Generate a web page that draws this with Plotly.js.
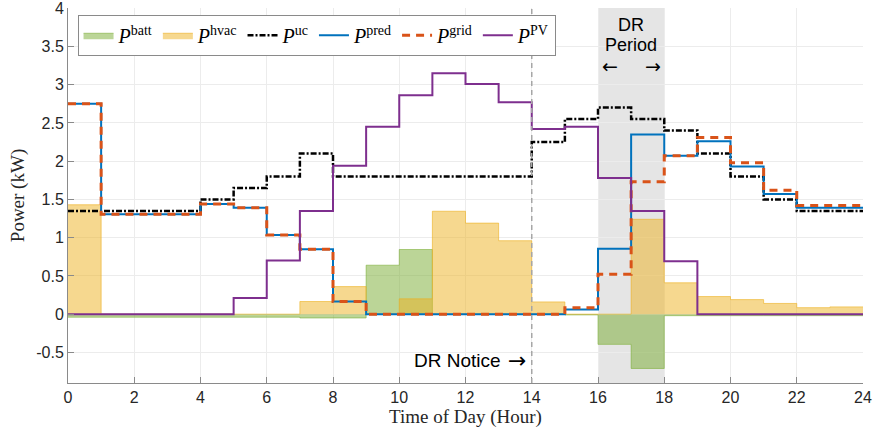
<!DOCTYPE html>
<html>
<head>
<meta charset="utf-8">
<script src="https://cdn.plot.ly/plotly-3.0.1.min.js"></script>
<style>
  html, body { margin: 0; padding: 0; background: #ffffff; }
  #chart { width: 873px; height: 432px; }
</style>
</head>
<body>
<div id="chart"></div>
<script>
// Hourly power profile (kW), one value per hour 0..23
const hours = [0,1,2,3,4,5,6,7,8,9,10,11,12,13,14,15,16,17,18,19,20,21,22,23];

const pBatt = [-0.04,-0.04,-0.04,-0.04,-0.04,-0.04,-0.04,-0.05,-0.05,0.64,0.845,0,0,0,0,-0.01,-0.395,-0.71,-0.02,-0.02,-0.02,-0.02,-0.02,-0.02];
const pHvac = [1.43,0,0,0,0,0,0,0.165,0.36,0,0.2,1.345,1.19,0.96,0.16,0,0,1.24,0.41,0.23,0.19,0.14,0.085,0.095];
const pUc   = [1.35,1.35,1.35,1.35,1.5,1.65,1.8,2.1,1.8,1.8,1.8,1.8,1.8,1.8,2.25,2.55,2.7,2.55,2.4,2.1,1.8,1.5,1.35,1.35];
const pPred = [2.75,1.305,1.305,1.305,1.44,1.39,1.035,0.85,0.165,0,0,0,0,0,0,0.06,0.855,2.35,2.07,2.26,1.93,1.57,1.39,1.39];
const pGrid = [2.75,1.305,1.305,1.305,1.44,1.39,1.035,0.85,0.165,0,0,0,0,0,0,0.085,0.52,1.73,2.07,2.31,1.98,1.62,1.42,1.42];
const pPV   = [0,0,0,0,0,0.21,0.70,1.35,1.94,2.45,2.86,3.15,3.01,2.77,2.42,2.45,1.78,1.35,0.69,0,0,0,0,0];

const xTicks = [0,2,4,6,8,10,12,14,16,18,20,22,24];
const yTicks = [-0.5,0,0.5,1,1.5,2,2.5,3,3.5,4];
const yTickText = ['-0.5','0','0.5','1','1.5','2','2.5','3','3.5','4'];

const drStart = 16, drEnd = 18, drNotice = 14;

// staircase helpers: each hourly value holds until the next hour
const stepX = hours.concat([hours[hours.length - 1] + 1]);
const stepY = v => v.concat([v[v.length - 1]]);

const serif = 'Liberation Serif, DejaVu Serif, serif';
const sans = 'Liberation Sans, Arial, sans-serif';
const arrowFont = 'DejaVu Sans, sans-serif';

const traces = [
  {
    x: stepX, y: stepY(pBatt), type: 'scatter', mode: 'lines',
    line: {shape: 'hv', color: 'rgba(119,172,48,0.55)', width: 1},
    fill: 'tozeroy', fillcolor: 'rgba(119,172,48,0.5)',
    name: '<i>P</i><sup>batt</sup>'
  },
  {
    x: stepX, y: stepY(pHvac), type: 'scatter', mode: 'lines',
    line: {shape: 'hv', color: 'rgba(237,177,32,0.6)', width: 1},
    fill: 'tozeroy', fillcolor: 'rgba(237,177,32,0.5)',
    name: '<i>P</i><sup>hvac</sup>'
  },
  {
    x: stepX, y: stepY(pUc), type: 'scatter', mode: 'lines',
    line: {shape: 'hv', color: '#000000', width: 2.5, dash: '6px,2px,2px,2px'},
    name: '<i>P</i><sup>uc</sup>'
  },
  {
    x: stepX, y: stepY(pPred), type: 'scatter', mode: 'lines',
    line: {shape: 'hv', color: '#0072BD', width: 2},
    name: '<i>P</i><sup>pred</sup>'
  },
  {
    x: stepX, y: stepY(pGrid), type: 'scatter', mode: 'lines',
    line: {shape: 'hv', color: '#D95319', width: 3, dash: '8px,6px'},
    name: '<i>P</i><sup>grid</sup>'
  },
  {
    x: stepX, y: stepY(pPV), type: 'scatter', mode: 'lines',
    line: {shape: 'hv', color: '#7E2F8E', width: 2},
    name: '<i>P</i><sup>PV</sup>'
  }
];

const axisColor = '#8a8a8a';
const layout = {
  width: 873, height: 432,
  margin: {l: 68, r: 10, t: 8, b: 49},
  paper_bgcolor: '#ffffff', plot_bgcolor: '#ffffff',
  showlegend: true,
  legend: {
    orientation: 'h', x: 0.012, y: 0.982, xanchor: 'left', yanchor: 'top',
    bgcolor: '#ffffff', bordercolor: '#8a8a8a', borderwidth: 1,
    font: {family: serif, size: 20, color: '#000000'},
    itemwidth: 30, tracegroupgap: 0
  },
  xaxis: {
    range: [0, 24], tickvals: xTicks, ticktext: xTicks.map(String),
    ticks: 'inside', ticklen: 6, tickcolor: axisColor,
    showline: true, linecolor: axisColor, linewidth: 1,
    showgrid: true, gridcolor: '#ececec', gridwidth: 1, zeroline: false,
    ticklabeloverflow: 'allow',
    tickfont: {family: sans, size: 16, color: '#262626'},
    title: {text: 'Time of Day (Hour)', font: {family: serif, size: 19, color: '#262626'}, standoff: 3}
  },
  yaxis: {
    range: [-0.9, 4.002], tickvals: yTicks, ticktext: yTickText,
    ticks: 'inside', ticklen: 6, tickcolor: axisColor,
    showline: true, linecolor: axisColor, linewidth: 1,
    showgrid: true, gridcolor: '#ececec', gridwidth: 1, zeroline: false,
    ticklabeloverflow: 'allow',
    tickfont: {family: sans, size: 16, color: '#262626'},
    title: {text: 'Power (kW)', font: {family: serif, size: 19, color: '#262626'}, standoff: 6}
  },
  shapes: [
    {type: 'rect', xref: 'x', yref: 'paper', x0: drStart, x1: drEnd, y0: 0, y1: 1,
     fillcolor: '#e5e5e5', line: {width: 0}, layer: 'below'},
    {type: 'line', xref: 'x', yref: 'paper', x0: drNotice, x1: drNotice, y0: 0, y1: 1,
     line: {color: '#a6a6a6', width: 1.5, dash: '5px,4px'}, layer: 'above'}
  ],
  annotations: [
    {xref: 'x', yref: 'y', x: 17, y: 3.78, text: 'DR', showarrow: false,
     font: {family: sans, size: 18, color: '#000000'}},
    {xref: 'x', yref: 'y', x: 17, y: 3.52, text: 'Period', showarrow: false,
     font: {family: sans, size: 18, color: '#000000'}},
    {xref: 'x', yref: 'y', x: 16.35, y: 3.24, text: '\u2190', showarrow: false,
     font: {family: arrowFont, size: 19, color: '#000000'}},
    {xref: 'x', yref: 'y', x: 17.65, y: 3.24, text: '\u2192', showarrow: false,
     font: {family: arrowFont, size: 19, color: '#000000'}},
    {xref: 'x', yref: 'y', x: drNotice, y: -0.6, xanchor: 'right', xshift: -29,
     text: 'DR Notice', showarrow: false,
     font: {family: sans, size: 19, color: '#000000'}},
    {xref: 'x', yref: 'y', x: drNotice, y: -0.6, xanchor: 'right', xshift: -4,
     text: '\u2192', showarrow: false,
     font: {family: arrowFont, size: 22, color: '#000000'}}
  ]
};

Plotly.newPlot('chart', traces, layout, {displayModeBar: false, staticPlot: true});
</script>
</body>
</html>
